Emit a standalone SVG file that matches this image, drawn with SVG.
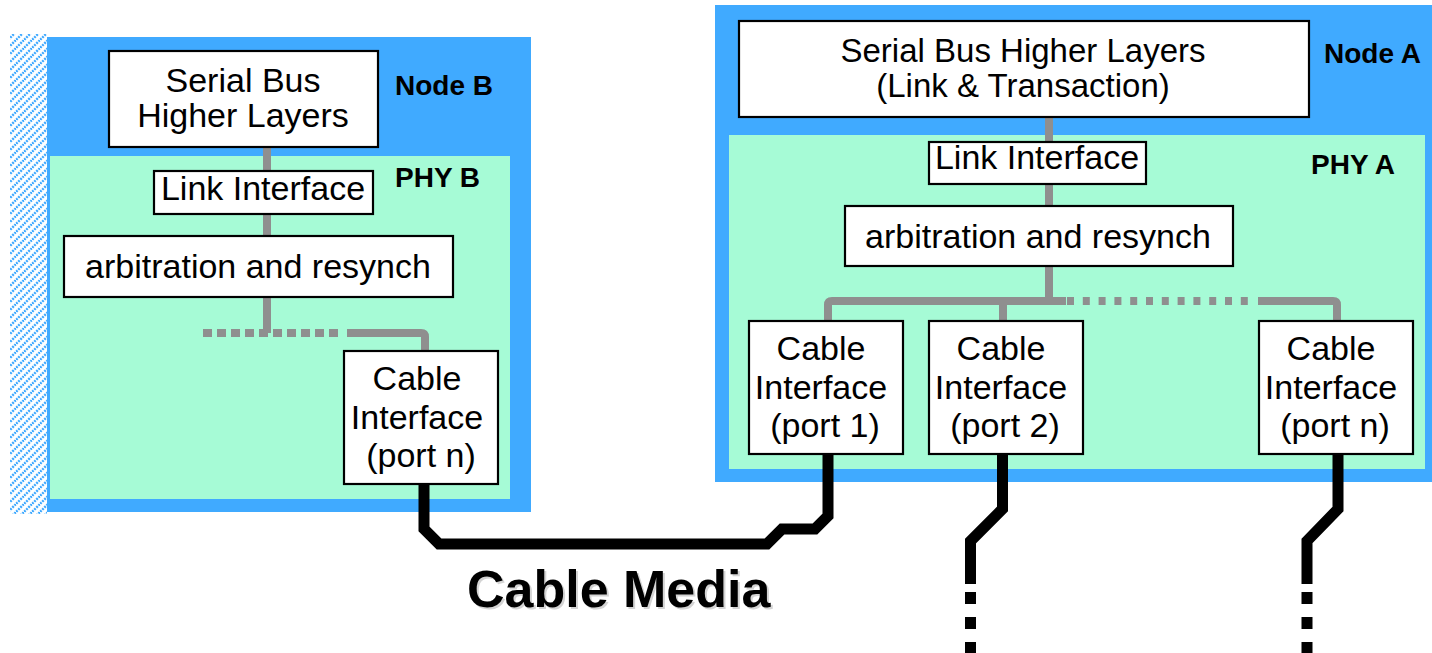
<svg xmlns="http://www.w3.org/2000/svg" width="1432" height="653" viewBox="0 0 1432 653">
  <defs>
    <pattern id="hatch" patternUnits="userSpaceOnUse" width="8" height="8">
      <path d="M-2,10 L10,-2 M-6,6 L6,-6 M2,14 L14,2" stroke="#3fa9ff" stroke-width="2.4" stroke-dasharray="2 1"/>
    </pattern>
  </defs>
  <style>
    .node { fill: #40aaff; }
    .phy { fill: #a6fbd6; }
    .box { fill: #ffffff; stroke: #000000; stroke-width: 2.2; }
    .t { font-family: "Liberation Sans", Arial, sans-serif; font-size: 34px; fill: #000000; text-anchor: middle; }
    .t33 { font-size: 33px; }
    .lbl { font-family: "Liberation Sans", Arial, sans-serif; font-size: 28px; font-weight: bold; fill: #000000; }
    .bus { fill: none; stroke: #8f8f8f; stroke-width: 8; }
    .dot { fill: none; stroke: #8f8f8f; stroke-width: 8; stroke-dasharray: 9 5; }
    .dotA { fill: none; stroke: #8f8f8f; stroke-width: 8; stroke-dasharray: 7 8.8; }
    .cable { fill: none; stroke: #000000; stroke-width: 11; stroke-linejoin: miter; }
    .cabledash { fill: none; stroke: #000000; stroke-width: 11; stroke-dasharray: 12 13; }
    .media { font-family: "Liberation Sans", Arial, sans-serif; font-size: 52px; font-weight: bold; }
  </style>

  <!-- wall hatch at the left edge -->
  <rect x="10" y="34" width="37" height="480" fill="url(#hatch)"/>

  <!-- Node B -->
  <g id="nodeB">
    <rect class="node" x="47" y="37" width="484" height="475"/>
    <rect class="phy" x="50" y="156" width="460" height="343"/>
    <text class="lbl" x="395" y="95">Node B</text>
    <text class="lbl" x="395" y="187">PHY B</text>
  </g>

  <!-- Node A -->
  <g id="nodeA">
    <rect class="node" x="715" y="5" width="717" height="477"/>
    <rect class="phy" x="729" y="135" width="696" height="334"/>
    <text class="lbl" x="1324" y="63">Node A</text>
    <text class="lbl" x="1311" y="174">PHY A</text>
  </g>

  <!-- connectors -->
  <g id="connectors">
    <!-- Node B internal bus -->
    <path class="bus" d="M267,147 V333"/>
    <path class="dot" d="M203,333 H340"/>
    <path class="bus" d="M347,333 H421 Q425,333 425,337 V351"/>
    <!-- Node A internal bus -->
    <path class="bus" d="M1049,117 V301"/>
    <path class="bus" d="M828,321 V305 Q828,301 832,301 H1066"/>
    <path class="bus" d="M1003,301 V321"/>
    <path class="dotA" d="M1067,301 H1250"/>
    <path class="bus" d="M1258,301 H1333 Q1337,301 1337,305 V321"/>
    <!-- cable media between Node B port n and Node A port 1 -->
    <path class="cable" d="M424,484 V529 L439,544 H767 L782,529 H815 L828,516 V454"/>
    <!-- cables from Node A port 2 and port n -->
    <path class="cable" d="M1002.5,454 V509 L970.5,541 V584"/>
    <path class="cabledash" d="M970.5,592 V660"/>
    <path class="cable" d="M1338,454 V509 L1307,541 V584"/>
    <path class="cabledash" d="M1307,592 V660"/>
  </g>

  <!-- Node B blocks -->
  <g id="sbhlB">
    <rect class="box" x="109" y="51" width="269" height="96"/>
    <text class="t" x="243" y="92">Serial Bus</text>
    <text class="t" x="243" y="127">Higher Layers</text>
  </g>
  <g id="linkB">
    <rect class="box" x="154" y="171" width="219" height="43"/>
    <text class="t" x="263" y="200">Link Interface</text>
  </g>
  <g id="arbB">
    <rect class="box" x="64" y="236" width="389" height="61"/>
    <text class="t" x="258" y="278">arbitration and resynch</text>
  </g>
  <g id="portnB">
    <rect class="box" x="344" y="351" width="154" height="133"/>
    <text class="t" x="417" y="390">Cable</text>
    <text class="t" x="417" y="429">Interface</text>
    <text class="t" x="421" y="467">(port n)</text>
  </g>

  <!-- Node A blocks -->
  <g id="sbhlA">
    <rect class="box" x="739" y="21" width="570" height="96"/>
    <text class="t t33" x="1023" y="62">Serial Bus Higher Layers</text>
    <text class="t t33" x="1023" y="97">(Link &amp; Transaction)</text>
  </g>
  <g id="linkA">
    <rect class="box" x="929" y="142" width="217" height="42"/>
    <text class="t" x="1037" y="169">Link Interface</text>
  </g>
  <g id="arbA">
    <rect class="box" x="845" y="206" width="388" height="60"/>
    <text class="t" x="1038" y="248">arbitration and resynch</text>
  </g>
  <g id="port1A">
    <rect class="box" x="749" y="321" width="154" height="133"/>
    <text class="t" x="821" y="360">Cable</text>
    <text class="t" x="821" y="399">Interface</text>
    <text class="t" x="825" y="437">(port 1)</text>
  </g>
  <g id="port2A">
    <rect class="box" x="929" y="321" width="154" height="133"/>
    <text class="t" x="1001" y="360">Cable</text>
    <text class="t" x="1001" y="399">Interface</text>
    <text class="t" x="1005" y="437">(port 2)</text>
  </g>
  <g id="portnA">
    <rect class="box" x="1259" y="321" width="154" height="133"/>
    <text class="t" x="1331" y="360">Cable</text>
    <text class="t" x="1331" y="399">Interface</text>
    <text class="t" x="1335" y="437">(port n)</text>
  </g>

  <!-- cable label with soft drop shadow -->
  <g id="cableMedia">
    <text class="media" x="469" y="609" fill="#d4d4d4">Cable Media</text>
    <text class="media" x="467" y="607" fill="#000000">Cable Media</text>
  </g>
</svg>
